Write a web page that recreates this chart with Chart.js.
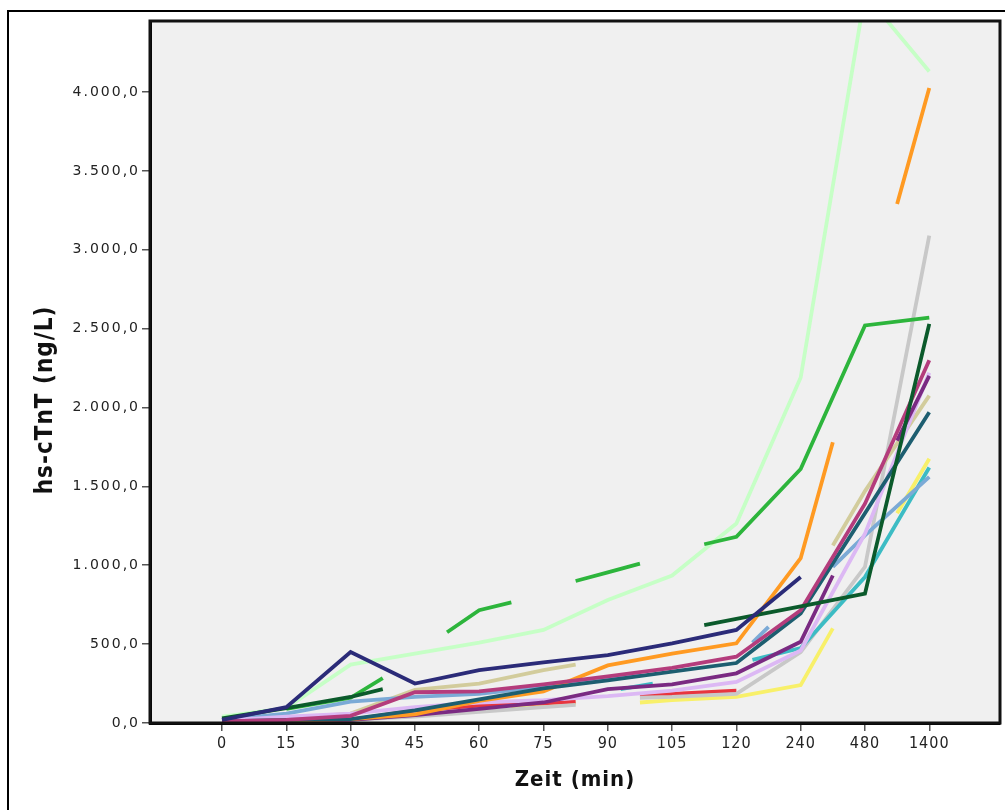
<!DOCTYPE html>
<html>
<head>
<meta charset="utf-8">
<script src="https://cdn.jsdelivr.net/npm/chart.js@4.4.1/dist/chart.umd.min.js"></script>
<style>
  html, body { margin: 0; padding: 0; background: #fff; }
</style>
</head>
<body>
<canvas id="myChart" width="1005" height="810"></canvas>
<script>
// Zeitpunkte (Kategorien der x-Achse)
const categories = ['0', '15', '30', '45', '60', '75', '90', '105', '120', '240', '480', '1400'];
const yTicks = [0, 500, 1000, 1500, 2000, 2500, 3000, 3500, 4000];
const yTitle = 'hs-cTnT (ng/L)';

// [Kategorie-Position, hs-cTnT]; null = Lücke in der Linie
const navy = [[0, 20], [1, 100], [2, 450], [3, 250], [4, 335], [5, 385], [6, 430], [7, 505], [8, 590], [9, 925]];
const darkGreen = [[0, 30], [1, 95], [2, 165], [2.5, 215], null, [7.5, 620], [8, 660], [9, 740], [10, 820], [11, 2530]];
const green = [[1, 90], [2, 160], [2.5, 285], null, [3.5, 575], [4, 715], [4.5, 765], null, [5.5, 900], [6, 955], [6.5, 1010], null, [7.5, 1133], [8, 1180], [9, 1610], [10, 2520], [11, 2570]];
const magenta = [[0, 10], [1, 20], [2, 45], [3, 195], [4, 200], [5, 245], [6, 295], [7, 350], [8, 420], [9, 715], [10, 1390], [11, 2300]];
const teal = [[0, 10], [1, 20], [2, 25], [3, 80], [4, 150], [5, 220], [6, 270], [7, 325], [8, 380], [9, 695], [10, 1330], [11, 1970]];
const orange = [[0, 10], [1, 15], [2, 25], [3, 55], [4, 140], [5, 200], [6, 365], [7, 440], [8, 505], [9, 1045], [9.5, 1780], null, [10.5, 3290], [11, 4025]];
const purple = [[0, 5], [1, 10], [2, 20], [3, 50], [4, 90], [5, 130], [6, 215], [7, 245], [8, 315], [9, 515], [9.5, 935], null, [10.5, 1790], [11, 2200]];
const lavender = [[0, 15], [1, 40], [2, 60], [3, 100], [4, 130], [5, 145], [6, 170], [7, 205], [8, 260], [9, 460], [10, 1200], [11, 2220]];
const steelBlue = [[0, 20], [1, 60], [2, 135], [3, 165], [4, 185], [5, 230], [6, 285], [6.5, 300], null, [8.25, 510], [8.5, 610], null, [9.5, 990], [10, 1190], [11, 1560]];
const cyan = [[6.2, 215], [6.7, 250], null, [8.25, 400], [9, 475], [10, 925], [11, 1620]];
const tan = [[0, 15], [1, 30], [2, 60], [3, 210], [4, 250], [5, 335], [5.5, 370], null, [9.5, 1125], [10, 1470], [11, 2075]];
const gray = [[0, 5], [1, 10], [2, 20], [3, 40], [4, 70], [5, 100], [5.5, 115], null, [6.5, 160], [7, 165], [8, 185], [9, 450], [10, 990], [11, 3090]];
const red = [[0, 5], [1, 10], [2, 20], [3, 80], [4, 110], [5, 125], [5.5, 135], null, [6.5, 175], [7, 185], [8, 205]];
const yellow = [[4.5, 100], [5, 110], [5.5, 125], null, [6.5, 130], [7, 145], [8, 165], [9, 240], [9.5, 600], null, [10.5, 1330], [11, 1675]];
const lightGreen = [[0, 40], [1, 95], [2, 370], [3, 440], [4, 510], [5, 590], [6, 780], [7, 935], [8, 1265], [9, 2190], [10, 4620], [11, 4130]];

// erste Reihe liegt oben
const series = [
  [navy, '#2b2b78'], [darkGreen, '#0b5a2b'], [green, '#2db53c'], [magenta, '#b43c7c'],
  [teal, '#1d5e70'], [orange, '#ff9a22'], [purple, '#7a2a82'], [lavender, '#dcb8f4'],
  [steelBlue, '#7baad6'], [cyan, '#3cbcc4'], [tan, '#d2cc9c'], [gray, '#c8c8c8'],
  [red, '#e8353f'], [yellow, '#f8f06a'], [lightGreen, '#c6ffc6']
];

function toPoints(list) {
  let lastX = 0;
  return list.map(p => {
    if (!p) return {x: lastX, y: null};
    lastX = p[0];
    return {x: p[0], y: p[1]};
  });
}

function fmt(v) {
  return String(Math.round(v)).replace(/\B(?=(\d{3})+(?!\d))/g, '.') + ',0';
}

const frame = {
  id: 'frame',
  beforeDraw(chart) {
    const {ctx, chartArea: a} = chart;
    ctx.save();
    ctx.fillStyle = '#fff';
    ctx.fillRect(0, 0, chart.width, chart.height);
    ctx.fillStyle = '#f0f0f0';
    ctx.fillRect(a.left, a.top, a.right - a.left, a.bottom - a.top);
    ctx.strokeStyle = '#000';
    ctx.lineWidth = 2;
    ctx.strokeRect(8, 11, chart.width + 20, chart.height + 20);
    ctx.restore();
    ctx.letterSpacing = '1px';
  },
  afterDatasetsDraw(chart) {
    // y tick labels (z: 1) come after the lines and are spaced wider
    chart.ctx.letterSpacing = '2px';
  },
  afterDraw(chart) {
    const {ctx, chartArea: a} = chart;
    ctx.save();
    ctx.strokeStyle = '#111';
    ctx.lineWidth = 3;
    ctx.strokeRect(a.left, a.top, a.right - a.left, a.bottom - a.top);
    ctx.letterSpacing = '1px';
    ctx.translate(46, 400);
    ctx.rotate(-Math.PI / 2);
    ctx.fillStyle = '#111';
    ctx.font = 'bold 24px "DejaVu Sans Condensed"';
    ctx.textAlign = 'center';
    ctx.textBaseline = 'middle';
    ctx.fillText(yTitle, 0, 0);
    ctx.restore();
    ctx.letterSpacing = '0px';
  }
};

Chart.defaults.color = '#222';
Chart.defaults.font.family = 'DejaVu Sans';

new Chart('myChart', {
  type: 'line',
  data: {
    datasets: series.map(([list, color]) => ({
      data: toPoints(list),
      borderColor: color,
      borderWidth: 3.8,
      pointRadius: 0,
      fill: false,
      tension: 0
    }))
  },
  options: {
    responsive: false,
    animation: false,
    layout: {padding: {left: 30, top: 21, right: 5, bottom: 0}},
    plugins: {legend: {display: false}, tooltip: {enabled: false}},
    scales: {
      x: {
        type: 'linear',
        min: -1.12,
        max: 12.1,
        afterBuildTicks: s => { s.ticks = categories.map((c, i) => ({value: i})); },
        afterFit: s => { s.height = 87; },
        border: {display: true, color: '#000', width: 3},
        grid: {drawOnChartArea: false, drawTicks: true, tickLength: 8, color: '#555', lineWidth: 1.5},
        ticks: {
          padding: 3, maxRotation: 0, autoSkip: false, color: '#222',
          font: {family: 'DejaVu Sans Condensed', size: 16},
          callback: v => categories[v]
        },
        title: {
          display: true, text: 'Zeit (min)', color: '#111',
          font: {family: 'DejaVu Sans Condensed', size: 22, weight: 'bold'},
          padding: {top: 0, bottom: 17}
        }
      },
      y: {
        type: 'linear',
        min: 0,
        max: 4450,
        afterBuildTicks: s => { s.ticks = yTicks.map(v => ({value: v})); },
        afterFit: s => { s.width = 120; },
        border: {display: true, color: '#000', width: 3},
        grid: {drawOnChartArea: false, drawTicks: true, tickLength: 8, color: '#555', lineWidth: 1.5},
        ticks: {z: 1, padding: 2, color: '#222', font: {family: 'DejaVu Sans', size: 14}, callback: v => fmt(v)}
      }
    }
  },
  plugins: [frame]
});
</script>
</body>
</html>
